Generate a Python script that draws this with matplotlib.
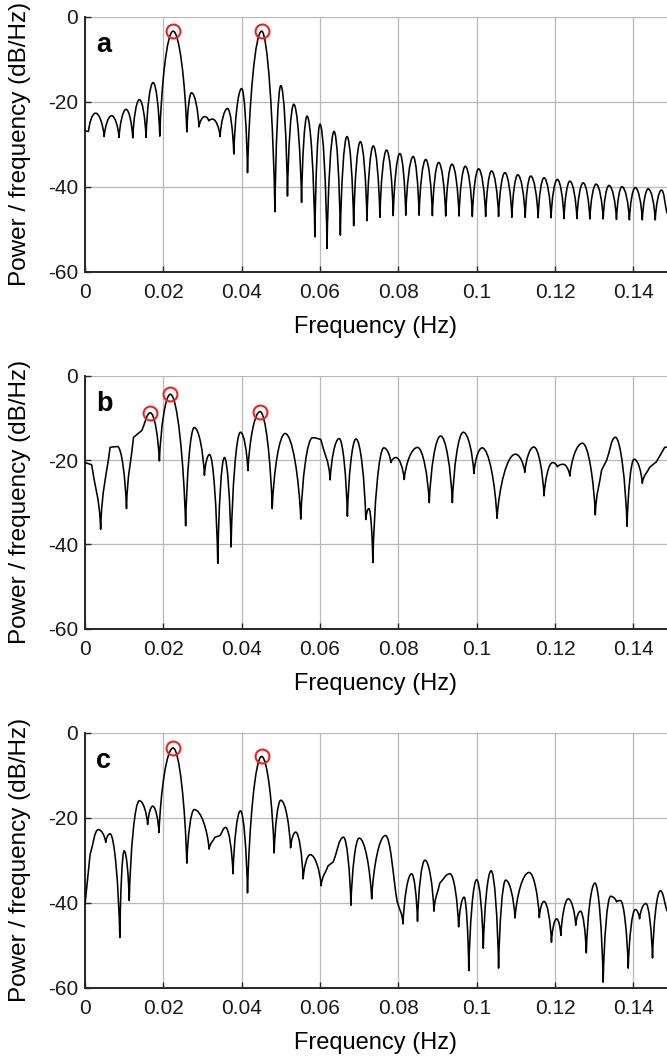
import matplotlib
matplotlib.use("Agg")
import matplotlib.pyplot as plt
from matplotlib.path import Path
from matplotlib.patches import PathPatch

plt.rcParams["font.family"] = ["Liberation Sans", "DejaVu Sans"]
plt.rcParams["axes.unicode_minus"] = False

# ---- data (peaks / troughs / shoulders) ----
freq_a = [0.0, 0.0009, 0.0027, 0.0049, 0.0068, 0.0087, 0.0105, 0.0122, 0.0139, 0.0156,
          0.0174, 0.0191, 0.0225, 0.0260, 0.0272, 0.0291, 0.0306, 0.0316, 0.0326, 0.0345,
          0.0364, 0.0380, 0.0400, 0.0415, 0.0451, 0.0485, 0.0500, 0.0517, 0.0533, 0.0553,
          0.0567, 0.0587, 0.0600, 0.0618, 0.0636, 0.0652, 0.0669, 0.0686, 0.0703, 0.0720,
          0.0736, 0.0753, 0.0770, 0.0787, 0.0804, 0.0819, 0.0838, 0.0853, 0.0870, 0.0887,
          0.0903, 0.0921, 0.0937, 0.0955, 0.0971, 0.0989, 0.1005, 0.1023, 0.1038, 0.1056,
          0.1072, 0.1090, 0.1105, 0.1124, 0.1138, 0.1157, 0.1172, 0.1190, 0.1206, 0.1223,
          0.1238, 0.1256, 0.1272, 0.1289, 0.1305, 0.1323, 0.1338, 0.1357, 0.1371, 0.1390,
          0.1405, 0.1423, 0.1438, 0.1456, 0.1472, 0.1486]
power_a = [-26.9, -27.0, -22.7, -28.2, -23.3, -28.4, -21.8, -28.5, -19.5, -28.4,
           -15.5, -28.1, -3.4, -27.1, -17.9, -25.9, -23.5, -24.5, -24.1, -28.2,
           -21.6, -32.3, -16.9, -36.7, -3.4, -45.9, -16.2, -42.2, -20.6, -43.7,
           -23.4, -51.8, -25.3, -54.5, -27.0, -51.4, -28.2, -49.2, -29.4, -48.0,
           -30.4, -47.2, -31.4, -46.8, -32.2, -46.7, -32.9, -46.7, -33.6, -46.8,
           -34.3, -46.9, -34.7, -46.9, -35.2, -47.0, -35.8, -47.0, -36.3, -47.0,
           -36.7, -47.2, -37.2, -47.2, -37.5, -47.3, -37.9, -47.3, -38.3, -47.5,
           -38.7, -47.5, -39.1, -47.6, -39.4, -47.6, -39.7, -47.7, -40.0, -47.8,
           -40.2, -47.8, -40.5, -47.8, -40.8, -46.3]
peaks_fa = [0.02247, 0.04511]
peaks_pa = [-3.3, -3.3]

freq_b = [0.0, 0.0017, 0.0040, 0.0064, 0.0083, 0.0106, 0.0124, 0.0145, 0.0167, 0.0190,
          0.0218, 0.0257, 0.0279, 0.0305, 0.0318, 0.0339, 0.0356, 0.0373, 0.0397, 0.0416,
          0.0447, 0.0478, 0.0511, 0.0551, 0.0581, 0.0602, 0.0626, 0.0649, 0.0670, 0.0692,
          0.0717, 0.0725, 0.0735, 0.0763, 0.0781, 0.0794, 0.0815, 0.0849, 0.0879, 0.0908,
          0.0938, 0.0966, 0.0993, 0.1014, 0.1052, 0.1099, 0.1123, 0.1146, 0.1172, 0.1194,
          0.1206, 0.1221, 0.1238, 0.1270, 0.1303, 0.1319, 0.1332, 0.1354, 0.1384, 0.1402,
          0.1423, 0.1442, 0.1459, 0.1480, 0.1486]
power_b = [-20.6, -21.1, -36.4, -17.0, -16.8, -31.5, -14.6, -13.0, -8.8, -20.2,
           -4.4, -35.6, -12.3, -23.6, -18.7, -44.5, -19.4, -40.6, -13.4, -22.5,
           -8.5, -31.5, -13.7, -34.0, -14.7, -15.1, -24.7, -14.9, -33.3, -15.0,
           -34.1, -31.5, -44.3, -17.1, -20.6, -19.4, -24.6, -17.0, -30.1, -14.3,
           -30.1, -13.4, -23.2, -17.1, -33.8, -18.6, -22.9, -16.9, -28.5, -20.6,
           -21.6, -21.0, -23.8, -16.0, -33.0, -22.4, -20.0, -14.6, -35.7, -19.8,
           -25.5, -21.7, -20.4, -17.0, -16.9]
peaks_fb = [0.01668, 0.02179, 0.04468]
peaks_pb = [-8.8, -4.4, -8.5]

freq_c = [0.0, 0.0013, 0.0034, 0.0053, 0.0064, 0.0089, 0.0100, 0.0113, 0.0139, 0.0160,
          0.0173, 0.0189, 0.0225, 0.0260, 0.0279, 0.0317, 0.0332, 0.0345, 0.0359, 0.0378,
          0.0397, 0.0415, 0.0451, 0.0483, 0.0500, 0.0525, 0.0538, 0.0557, 0.0575, 0.0603,
          0.0621, 0.0634, 0.0660, 0.0679, 0.0700, 0.0732, 0.0767, 0.0797, 0.0812, 0.0834,
          0.0849, 0.0868, 0.0891, 0.0906, 0.0932, 0.0954, 0.0968, 0.0980, 0.1000, 0.1017,
          0.1037, 0.1056, 0.1074, 0.1098, 0.1134, 0.1160, 0.1172, 0.1191, 0.1204, 0.1215,
          0.1234, 0.1253, 0.1265, 0.1280, 0.1302, 0.1323, 0.1342, 0.1357, 0.1367, 0.1387,
          0.1405, 0.1416, 0.1432, 0.1449, 0.1469, 0.1486]
power_c = [-40.5, -28.7, -22.8, -25.8, -23.8, -48.2, -27.8, -39.5, -16.0, -21.6,
           -17.3, -23.5, -3.6, -30.7, -18.1, -27.4, -24.6, -24.2, -22.3, -33.2,
           -18.4, -37.7, -5.6, -28.3, -15.9, -27.1, -23.4, -34.4, -28.7, -36.0,
           -31.3, -30.4, -24.6, -40.6, -24.8, -39.1, -24.2, -39.7, -45.0, -33.2,
           -44.4, -30.0, -42.0, -35.4, -33.2, -45.7, -38.7, -56.0, -34.6, -50.7,
           -32.5, -55.4, -34.7, -43.6, -32.9, -43.5, -39.7, -49.3, -43.8, -47.7,
           -39.1, -45.3, -42.0, -51.8, -35.4, -58.7, -38.5, -39.8, -39.5, -55.4,
           -41.6, -43.8, -40.2, -53.0, -37.2, -42.0]
peaks_fc = [0.02247, 0.04511]
peaks_pc = [-3.6, -5.6]

xticks = [0, 0.02, 0.04, 0.06, 0.08, 0.1, 0.12, 0.14]
xtick_labels = ["0", "0.02", "0.04", "0.06", "0.08", "0.1", "0.12", "0.14"]
yticks = [-60, -40, -20, 0]
ytick_labels = ["-60", "-40", "-20", "0"]


def spectrum_path(xs, ys):
    # smooth curve through the knots: pointed at minima, rounded at maxima
    n = len(xs)
    kind = []
    for i in range(n):
        if i == 0 or i == n - 1:
            kind.append(0)
        elif ys[i] < ys[i - 1] and ys[i] < ys[i + 1]:
            kind.append(-1)
        elif ys[i] > ys[i - 1] and ys[i] > ys[i + 1]:
            kind.append(1)
        else:
            kind.append(0)
    verts = [(xs[0], ys[0])]
    codes = [Path.MOVETO]
    for i in range(n - 1):
        x0, y0, x1, y1 = xs[i], ys[i], xs[i + 1], ys[i + 1]
        dx, dy = x1 - x0, y1 - y0
        if kind[i] == -1:
            c1 = (x0 + 0.12 * dx, y0 + 0.5 * dy)
        elif kind[i] == 1:
            c1 = (x0 + 0.45 * dx, y0)
        else:
            c1 = (x0 + dx / 3, y0 + dy / 3)
        if kind[i + 1] == -1:
            c2 = (x1 - 0.12 * dx, y1 - 0.5 * dy)
        elif kind[i + 1] == 1:
            c2 = (x1 - 0.45 * dx, y1)
        else:
            c2 = (x1 - dx / 3, y1 - dy / 3)
        verts += [c1, c2, (x1, y1)]
        codes += [Path.CURVE4, Path.CURVE4, Path.CURVE4]
    return Path(verts, codes)


fig = plt.figure(figsize=(6.67, 10.56), dpi=100)

panels = [
    ("a", freq_a, power_a, peaks_fa, peaks_pa, [0.1274, 0.7427, 0.8726, 0.2415]),
    ("b", freq_b, power_b, peaks_fb, peaks_pb, [0.1274, 0.4046, 0.8726, 0.2396]),
    ("c", freq_c, power_c, peaks_fc, peaks_pc, [0.1274, 0.0647, 0.8726, 0.2415]),
]

for letter, f, p, pf, pp, pos in panels:
    ax = fig.add_axes(pos)
    ax.add_patch(PathPatch(spectrum_path(f, p), fill=False, edgecolor="black",
                           lw=1.15, joinstyle="round", zorder=3))
    ax.plot(pf, pp, "o", ms=10, mfc="none", mec="#e8251f", mew=1.5, zorder=4)
    ax.set_xlim(0, 0.1486)
    ax.set_ylim(-60, 0)
    ax.set_xticks(xticks)
    ax.set_xticklabels(xtick_labels)
    ax.set_yticks(yticks)
    ax.set_yticklabels(ytick_labels)
    ax.grid(True, color="#b8b8b8", lw=0.9)
    ax.set_axisbelow(True)
    for side in ["top", "right"]:
        ax.spines[side].set_visible(False)
    for side in ["left", "bottom"]:
        ax.spines[side].set_color("#262626")
        ax.spines[side].set_linewidth(1.4)
    ax.tick_params(direction="in", length=4, width=1.0, color="#262626",
                   labelsize=15, labelcolor="#1a1a1a")
    ax.tick_params(axis="x", pad=8)
    ax.tick_params(axis="y", pad=5)
    ax.set_xlabel("Frequency (Hz)", fontsize=17, labelpad=10)
    ax.set_ylabel("Power / frequency (dB/Hz)", fontsize=17.5)
    ax.yaxis.set_label_coords(-0.093, 0.5)
    ax.text(0.019, 0.862, letter, transform=ax.transAxes, fontsize=19.5,
            fontweight="bold", va="baseline", zorder=5)

fig.savefig("out.png", dpi=100)
